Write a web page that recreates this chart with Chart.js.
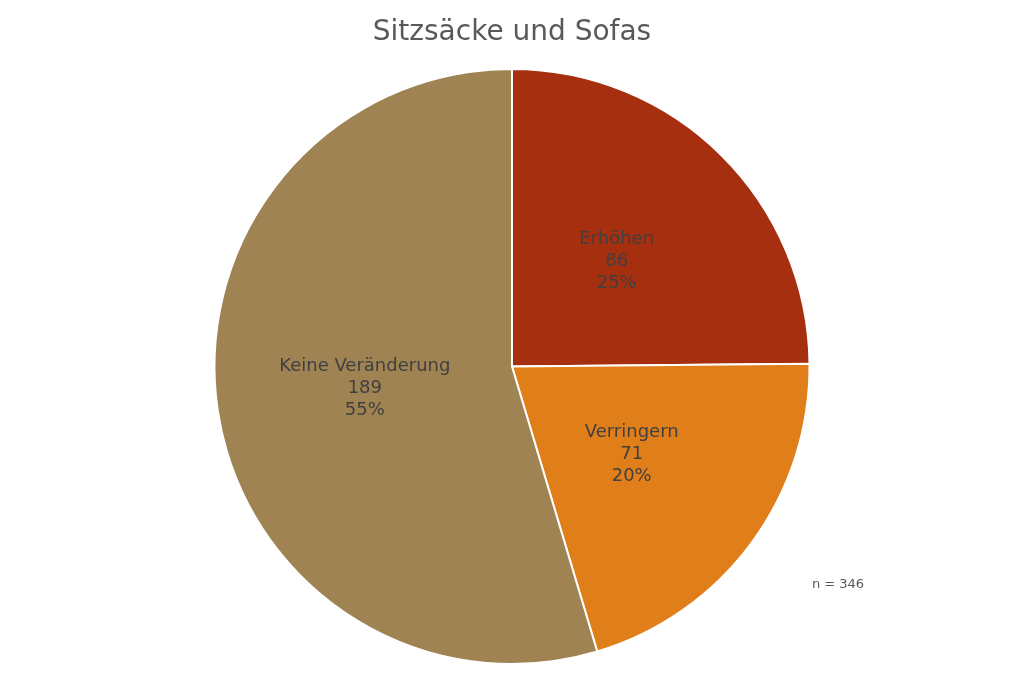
<!DOCTYPE html>
<html lang="de">
<head>
<meta charset="UTF-8">
<title>Sitzsäcke und Sofas</title>
<script src="https://cdn.jsdelivr.net/npm/chart.js@4.4.0/dist/chart.umd.min.js"></script>
<style>
  body { margin: 0; padding: 0; background: #ffffff; }
  .wrap { width: 1024px; height: 682px; position: relative; }
</style>
</head>
<body>
<div class="wrap">
  <canvas id="pieChart" width="1024" height="682"></canvas>
</div>
<script>
  var categories = ['Erhöhen', 'Verringern', 'Keine Veränderung'];
  var counts = [86, 71, 189];
  var percentLabels = ['25%', '20%', '55%'];
  var sliceColors = ['#A52F0F', '#E07E1A', '#9F8352'];
  var sampleNote = 'n = 346';

  var fontFamily = '"DejaVu Sans", Lato, sans-serif';

  // draws category / count / percent in the middle of each slice, plus the n note
  var sliceLabels = {
    id: 'sliceLabels',
    afterDatasetsDraw: function (chart) {
      var ctx = chart.ctx;
      var meta = chart.getDatasetMeta(0);
      ctx.save();
      ctx.font = '18px ' + fontFamily;
      ctx.fillStyle = '#404040';
      ctx.textAlign = 'center';
      ctx.textBaseline = 'middle';
      meta.data.forEach(function (arc, i) {
        var p = arc.tooltipPosition();
        ctx.fillText(categories[i], p.x, p.y - 22);
        ctx.fillText(String(counts[i]), p.x, p.y);
        ctx.fillText(percentLabels[i], p.x, p.y + 22);
      });
      ctx.font = '13px ' + fontFamily;
      ctx.fillStyle = '#595959';
      ctx.fillText(sampleNote, 838, 585);
      ctx.restore();
    }
  };

  var ctx = document.getElementById('pieChart').getContext('2d');
  var pieChart = new Chart(ctx, {
    type: 'pie',
    data: {
      labels: categories,
      datasets: [{
        data: counts,
        backgroundColor: sliceColors,
        borderColor: '#ffffff',
        borderWidth: 2,
        hoverOffset: 0
      }]
    },
    options: {
      responsive: false,
      animation: false,
      layout: { padding: { top: 0, bottom: 17 } },
      plugins: {
        legend: { display: false },
        tooltip: { enabled: false },
        title: {
          display: true,
          text: 'Sitzsäcke und Sofas',
          color: '#595959',
          font: { family: fontFamily, size: 28, weight: 'normal', lineHeight: 1.2 },
          padding: { top: 16, bottom: 18.4 }
        }
      }
    },
    plugins: [sliceLabels]
  });
</script>
</body>
</html>
